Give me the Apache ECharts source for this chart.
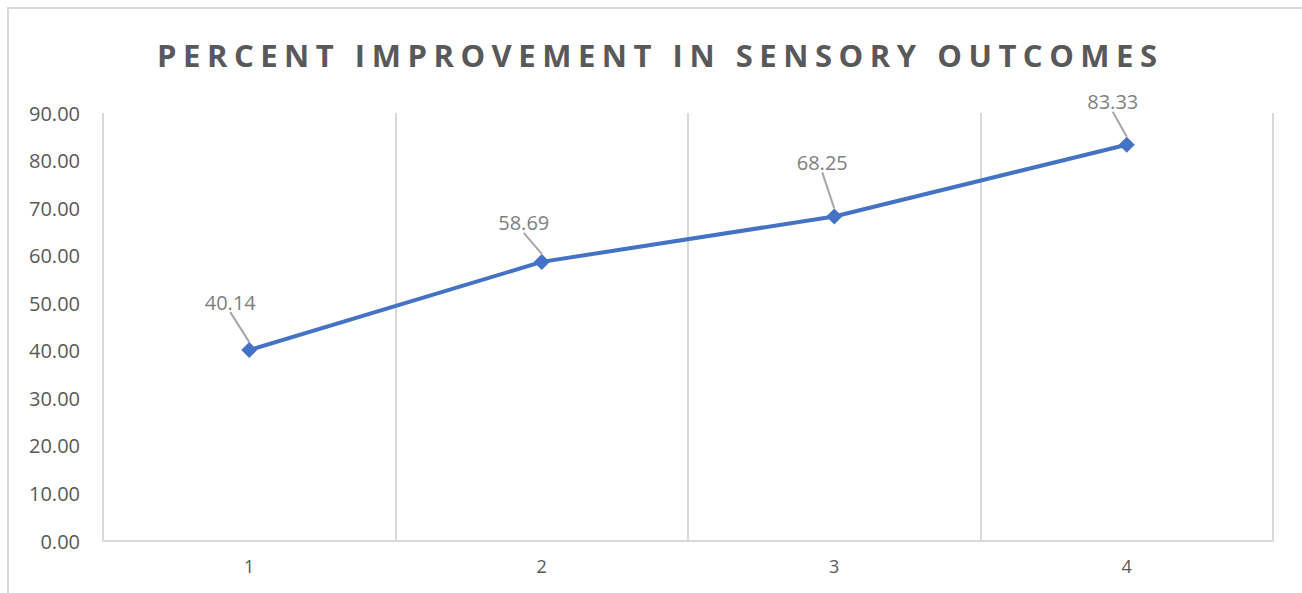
<!DOCTYPE html>
<html><head><meta charset="utf-8">
<script src="https://cdn.jsdelivr.net/npm/echarts@6/dist/echarts.min.js"></script>
<style>html,body{margin:0;padding:0;background:#fff}#c{width:1302px;height:593px}</style>
</head><body><div id="c"></div>
<script>
const titleText = 'PERCENT IMPROVEMENT IN SENSORY OUTCOMES';
const categories = ['1', '2', '3', '4'];
const values = [40.14, 58.69, 68.25, 83.33];
const yMin = 0, yMax = 90, yStep = 10;

// label displacement (style only)
const labelOffsets = [[-19, -25], [-18, -16], [-12, -31], [-14, -20]];

const chart = echarts.init(document.getElementById('c'), null, { renderer: 'svg' });
chart.setOption({
  animation: false,
  backgroundColor: '#fff',
  title: {
    text: titleText,
    left: 152, top: 34,
    textStyle: { fontFamily: 'Open Sans', fontWeight: 'bold', fontSize: 31, color: '#595959' }
  },
  graphic: [{
    type: 'rect', z: -10, silent: true,
    shape: { x: 8, y: 8, width: 1400, height: 700 },
    style: { fill: 'none', stroke: '#d9d9d9', lineWidth: 2 }
  }],
  grid: { left: 103, right: 29, top: 113, bottom: 52, containLabel: false },
  xAxis: {
    type: 'category', data: categories, boundaryGap: true,
    axisLine: { lineStyle: { color: '#d9d9d9', width: 2 } },
    axisTick: { show: false },
    splitLine: { show: true, lineStyle: { color: '#d9d9d9', width: 2 } },
    axisLabel: { color: '#595959', fontSize: 18, fontFamily: 'Open Sans', margin: 16 }
  },
  yAxis: {
    type: 'value', min: yMin, max: yMax, interval: yStep,
    axisLine: { show: false }, axisTick: { show: false }, splitLine: { show: false },
    axisLabel: { color: '#595959', fontSize: 20, fontFamily: 'Open Sans', margin: 23,
      formatter: v => v.toFixed(2) }
  },
  series: [{
    type: 'line', data: values,
    lineStyle: { color: '#4472C4', width: 4 },
    itemStyle: { color: '#4472C4' },
    symbol: 'diamond', symbolSize: 16,
    label: { show: true, position: 'top', color: '#7f7f7f', fontSize: 20, fontFamily: 'Open Sans',
      formatter: p => p.value.toFixed(2) },
    labelLine: { show: true, lineStyle: { color: '#a6a6a6', width: 2 } },
    labelLayout: p => ({ dx: labelOffsets[p.dataIndex][0], dy: labelOffsets[p.dataIndex][1] })
  }]
});

function spaceTitle() {
  document.querySelectorAll('#c text').forEach(t => {
    if (t.textContent === titleText) {
      t.setAttribute('letter-spacing', '0');
      const w = t.getComputedTextLength();
      const ls = (1000 - w) / (titleText.length - 1);
      t.setAttribute('letter-spacing', ls.toFixed(2));
    }
  });
}
chart.on('finished', spaceTitle);
spaceTitle();
</script></body></html>
